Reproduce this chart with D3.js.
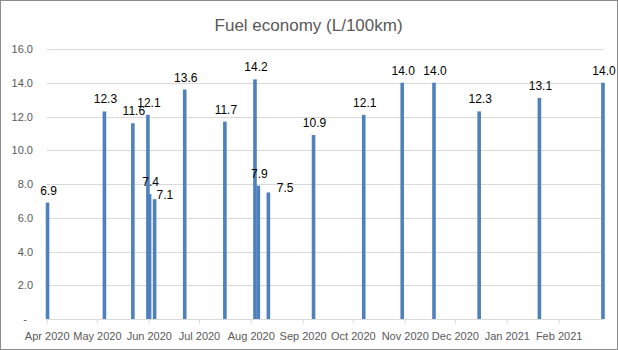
<!DOCTYPE html>
<html>
<head>
<meta charset="utf-8">
<script src="https://cdn.jsdelivr.net/npm/d3@7"></script>
<style>
  html, body { margin: 0; padding: 0; background: #fff; }
  svg { display: block; }
</style>
</head>
<body>
<svg id="chart" width="618" height="350"></svg>
<script>
// ---- data ----
const dates = [
  "2020-04-01", "2020-05-05", "2020-05-22", "2020-05-31", "2020-06-01",
  "2020-06-04", "2020-06-22", "2020-07-16", "2020-08-03", "2020-08-05",
  "2020-08-11", "2020-09-07", "2020-10-07", "2020-10-30", "2020-11-18",
  "2020-12-15", "2021-01-20", "2021-02-27"
];
const values = [6.9, 12.3, 11.6, 12.1, 7.4, 7.1, 13.6, 11.7, 14.2, 7.9, 7.5, 10.9, 12.1, 14.0, 14.0, 12.3, 13.1, 14.0];
const yTicks = [0, 2, 4, 6, 8, 10, 12, 14, 16];
const axisStart = "2020-04-01";
const axisEnd = "2021-02-28";
const title = "Fuel economy (L/100km)";

// ---- drawing ----
(function () {
const svg = d3.select("#chart");
const W = 618, H = 350;
const pLeft = 46.7, pRight = 603.8, pTop = 49, pBottom = 319;
const parse = d3.utcParse("%Y-%m-%d");
const DAY = 86400000;
const FONT = "Liberation Sans, Arial, sans-serif";

svg.append("rect").attr("x", 0.5).attr("y", 0.5).attr("width", W - 1).attr("height", H - 1)
  .attr("fill", "#fff").attr("stroke", "#8c8c8c").attr("stroke-width", 1);

const x = d3.scaleUtc().domain([parse(axisStart), parse(axisEnd)]).range([pLeft, pRight]);
const y = d3.scaleLinear().domain([0, 16]).range([pBottom, pTop]);

svg.append("text").attr("x", 308.6).attr("y", 31).attr("text-anchor", "middle")
  .attr("font-family", FONT).attr("font-size", 17)
  .attr("fill", "#595959").text(title);

// gridlines
svg.append("g").selectAll("line").data(yTicks.filter(d => d > 0)).join("line")
  .attr("x1", pLeft).attr("x2", pRight)
  .attr("y1", d => Math.round(y(d)) + 0.5).attr("y2", d => Math.round(y(d)) + 0.5)
  .attr("stroke", "#d9d9d9").attr("stroke-width", 1);

// y axis labels
const yAxis = d3.axisLeft(y).tickValues(yTicks).tickSize(0).tickPadding(0)
  .tickFormat(d => d === 0 ? "-" : d3.format(".1f")(d));
const gy = svg.append("g").attr("transform", "translate(33,0)").call(yAxis);
gy.select(".domain").remove();
gy.selectAll("text").attr("font-family", FONT)
  .attr("font-size", 11).attr("fill", "#595959")
  .attr("dx", d => d === 0 ? -6 : 0);

// x axis
const xAxis = d3.axisBottom(x).ticks(d3.utcMonth.every(1)).tickSize(4).tickPadding(9)
  .tickFormat(d3.utcFormat("%b %Y"));
const gx = svg.append("g").attr("transform", `translate(0,${pBottom + 0.5})`).call(xAxis);
gx.select(".domain").attr("stroke", "#d9d9d9").attr("d", `M${pLeft},0H${pRight}`);
gx.selectAll(".tick line").attr("stroke", "#d9d9d9");
gx.selectAll("text").attr("font-family", FONT)
  .attr("font-size", 11).attr("fill", "#595959");

// bars
const data = dates.map((d, i) => ({ date: parse(d), value: values[i], i }));
const bw = 3.6;
const cx = d => x(new Date(d.date.getTime() + DAY / 2));
svg.append("g").selectAll("rect").data(data).join("rect")
  .attr("x", d => cx(d) - bw / 2).attr("width", bw)
  .attr("y", d => y(d.value)).attr("height", d => pBottom - y(d.value))
  .attr("fill", "#4f81bd");

// data labels
const sideOffset = { 5: 10.2, 10: 16.7 };
svg.append("g").selectAll("text").data(data).join("text")
  .attr("x", d => cx(d) + (d.i in sideOffset ? sideOffset[d.i] : 1))
  .attr("y", d => y(d.value) - (d.i in sideOffset ? 0 : 8))
  .attr("text-anchor", "middle")
  .attr("font-family", FONT).attr("font-size", 12)
  .attr("fill", "#000").text(d => d3.format(".1f")(d.value));
})();
</script>
</body>
</html>
